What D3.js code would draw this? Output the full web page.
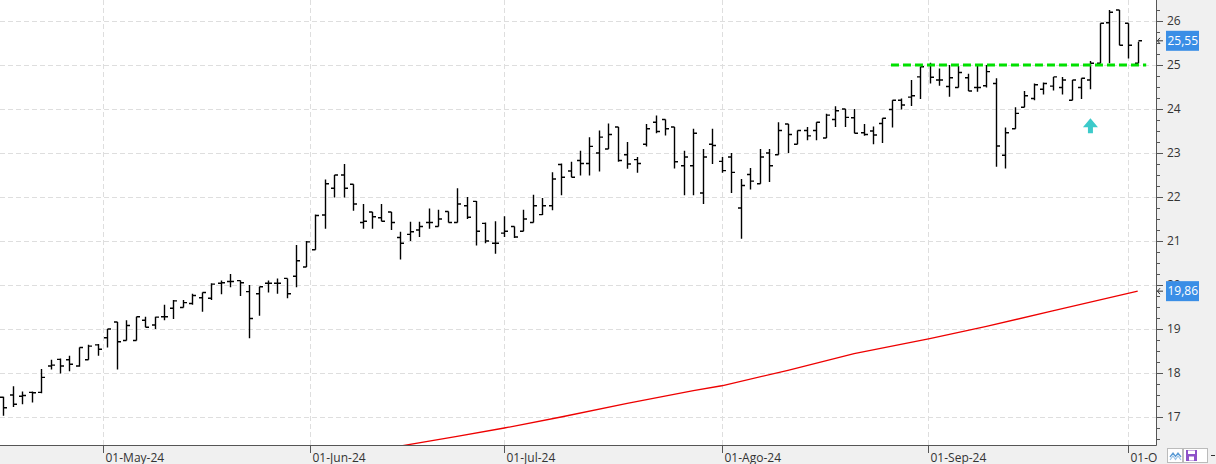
<!DOCTYPE html>
<html><head><meta charset="utf-8">
<script src="https://cdn.jsdelivr.net/npm/d3@7"></script>
<style>html,body{margin:0;padding:0;background:#fff;overflow:hidden}svg{display:block}</style>
</head><body><svg id="c" width="1216" height="464"></svg>
<script>
// ---- data (bars indexed by trading day; first bar ~16-Apr-24) ----
const opens  = [17.45,17.50,17.47,17.56,17.56,18.16,18.31,18.30,18.16,18.30,18.64,18.80,19.16,18.74,18.74,19.20,19.09,19.28,19.47,19.49,19.58,19.71,19.70,20.04,20.08,20.10,19.85,19.80,20.04,20.04,20.15,20.20,20.41,20.80,21.59,22.20,22.50,22.29,21.42,21.66,21.53,21.66,21.08,21.15,21.25,21.42,21.33,21.67,21.42,21.80,21.90,21.40,20.95,21.18,21.33,21.22,21.42,21.60,21.80,22.74,22.59,22.83,22.76,23.00,23.09,23.59,22.96,22.85,23.20,23.70,23.76,23.59,22.71,22.71,22.09,23.20,22.81,22.91,21.75,22.51,22.30,23.00,22.96,23.66,23.20,23.51,23.51,23.34,23.76,24.00,23.80,23.46,23.50,23.67,23.99,24.20,24.27,24.73,25.00,24.66,24.51,24.49,24.71,24.49,24.53,24.58,22.95,23.55,24.04,24.24,24.45,24.52,24.49,24.20,24.49,24.66,25.04,25.96,26.25,25.95,25.04];
const highs  = [17.46,17.70,17.58,17.58,18.09,18.30,18.33,18.39,18.58,18.64,18.66,19.00,19.16,19.20,19.28,19.28,19.28,19.55,19.66,19.66,19.80,19.83,20.04,20.10,20.25,20.10,20.00,19.96,20.10,20.15,20.15,20.91,21.00,21.60,22.40,22.50,22.75,22.29,21.84,21.66,21.84,21.66,21.21,21.44,21.44,21.74,21.71,21.67,22.20,22.00,21.91,21.42,21.45,21.56,21.33,21.71,22.05,21.98,22.56,22.76,22.80,23.05,23.36,23.51,23.67,23.59,23.25,22.91,23.66,23.85,23.76,23.59,23.05,23.55,23.09,23.55,22.91,23.00,22.41,22.66,23.09,23.09,23.70,23.66,23.51,23.59,23.70,23.89,24.06,24.00,24.00,23.66,23.60,23.79,24.20,24.24,24.66,24.96,25.05,24.92,25.00,24.98,24.80,24.98,25.00,24.70,23.58,24.04,24.41,24.58,24.60,24.73,24.73,24.66,24.70,25.09,25.95,26.25,26.25,25.95,25.53];
const lows   = [17.03,17.23,17.29,17.33,17.54,18.08,17.99,18.04,18.14,18.30,18.39,18.58,18.08,18.74,18.74,19.04,19.00,19.20,19.23,19.49,19.55,19.39,19.66,19.79,19.95,19.75,18.79,19.30,19.83,19.80,19.70,19.95,20.41,20.80,21.28,21.99,21.99,21.69,21.28,21.28,21.45,21.25,20.58,21.00,21.09,21.28,21.33,21.42,21.42,21.50,20.90,20.95,20.71,21.09,21.07,21.22,21.42,21.59,21.70,22.04,22.45,22.49,22.49,22.58,23.09,22.80,22.64,22.55,23.15,23.45,23.40,22.65,22.04,22.04,21.84,22.75,22.55,22.09,21.05,22.17,22.30,22.34,22.96,23.00,23.20,23.29,23.29,23.34,23.59,23.59,23.45,23.39,23.20,23.23,23.58,23.99,24.07,24.23,24.58,24.53,24.28,24.49,24.41,24.39,24.49,22.69,22.65,23.55,24.04,24.20,24.33,24.42,24.33,24.20,24.23,24.45,25.04,25.04,25.45,25.15,25.04];
const closes = [17.21,17.29,17.49,17.55,17.90,18.18,18.16,18.20,18.58,18.61,18.54,19.00,18.71,19.08,19.28,19.04,19.27,19.28,19.64,19.60,19.76,19.83,20.02,20.05,20.08,20.05,19.24,19.96,20.04,20.04,19.80,20.55,20.98,21.58,22.30,22.50,22.20,21.84,21.45,21.55,21.45,21.42,20.95,21.21,21.33,21.42,21.50,21.42,21.84,21.54,21.22,21.00,20.95,21.22,21.09,21.50,21.80,21.80,22.41,22.45,22.45,22.76,23.15,23.36,23.42,22.83,22.75,22.76,23.55,23.49,23.55,22.80,22.91,23.45,22.91,23.17,22.60,22.56,22.26,22.36,22.91,22.71,23.51,23.42,23.51,23.39,23.70,23.86,23.96,23.81,23.45,23.42,23.41,23.79,24.20,24.09,24.30,24.96,24.72,24.66,24.71,24.83,24.41,24.49,24.85,23.16,23.46,23.90,24.30,24.55,24.58,24.73,24.66,24.66,24.70,25.04,25.95,26.20,25.45,25.45,25.55];
// moving average read at these bar indices
const maIndex  = [42, 48, 53, 59, 66, 73, 76, 83, 90, 98, 104, 111, 120];
const maValues = [16.34,16.56,16.75,17.00,17.31,17.60,17.71,18.06,18.44,18.78,19.06,19.41,19.86];
// month ticks (position in bar-index units)
const monthLabels = ["01-May-24","01-Jun-24","01-Jul-24","01-Ago-24","01-Sep-24","01-Oct-24"];
const monthPos    = [10.58, 32.45, 53, 76, 97.8, 119];
const yTicks = [17,18,19,20,21,22,23,24,25,26];
const resistance = {level: 25, from: 93.9, to: 120.9};
const signalBar = 115, signalValue = 23.79;
const lastLabels = [{v: 25.55, t: "25,55"}, {v: 19.86, t: "19,86"}];

// ---- layout ----
const W = 1216, H = 464, plotR = 1156, plotB = 445;
const svg = d3.select("#c");
const x = d3.scaleLinear().domain([0, 120]).range([3.3, 1137.7]);
const y = d3.scaleLinear().domain([16, 26]).range([461, 21]);
const font = "'Open Sans', 'Noto Sans', sans-serif";

// panels
svg.append("rect").attr("x", plotR).attr("y", 0).attr("width", W - plotR).attr("height", H).attr("fill", "#f0f0f0");
svg.append("rect").attr("x", 0).attr("y", plotB).attr("width", W).attr("height", H - plotB).attr("fill", "#f0f0f0");

svg.append("defs").append("clipPath").attr("id", "clip")
  .append("rect").attr("x", 0).attr("y", 0).attr("width", plotR).attr("height", plotB);

const grid = svg.append("g").attr("stroke", "#dedede").attr("stroke-dasharray", "5,3").attr("stroke-width", 1);
yTicks.forEach(v => grid.append("line").attr("x1", 0).attr("x2", plotR)
  .attr("y1", Math.round(y(v)) + 0.5).attr("y2", Math.round(y(v)) + 0.5));
monthPos.forEach(p => grid.append("line").attr("y1", 0).attr("y2", plotB)
  .attr("x1", Math.round(x(p)) + 0.5).attr("x2", Math.round(x(p)) + 0.5));

const plot = svg.append("g").attr("clip-path", "url(#clip)");

// moving average
plot.append("path")
  .datum(maIndex.map((d, i) => [d, maValues[i]]))
  .attr("fill", "none").attr("stroke", "#ee0000").attr("stroke-width", 1.3)
  .attr("d", d3.line().x(d => x(d[0])).y(d => y(d[1])));

// OHLC bars
const bars = plot.append("g").attr("stroke", "#000").attr("stroke-width", 1.4).attr("fill", "none");
opens.forEach((o, i) => {
  const cx = Math.round(x(i)) + 0.5;
  bars.append("path").attr("d",
    `M${cx},${y(highs[i])}V${y(lows[i])}` +
    `M${cx - 3.5},${y(o)}H${cx}` +
    `M${cx},${y(closes[i])}H${cx + 3.5}`);
});

// resistance line
plot.append("line")
  .attr("x1", x(resistance.from)).attr("x2", x(resistance.to))
  .attr("y1", y(resistance.level)).attr("y2", y(resistance.level))
  .attr("stroke", "#00e000").attr("stroke-width", 3).attr("stroke-dasharray", "8,4");

// signal arrow
{
  const ax = x(signalBar), ay = y(signalValue);
  plot.append("path").attr("fill", "#3ccaca")
    .attr("d", `M${ax},${ay}L${ax + 7.5},${ay + 9}H${ax + 2.5}V${ay + 15}H${ax - 2.5}V${ay + 9}H${ax - 7.5}Z`);
}

// axes lines
svg.append("line").attr("x1", 0).attr("x2", plotR + 0.5).attr("y1", plotB + 0.5).attr("y2", plotB + 0.5)
  .attr("stroke", "#555").attr("stroke-width", 1);
svg.append("line").attr("x1", plotR + 0.5).attr("x2", plotR + 0.5).attr("y1", 0).attr("y2", plotB + 0.5)
  .attr("stroke", "#555").attr("stroke-width", 1);

// right axis ticks
const minor = d3.range(16.25, 26.5, 0.25);
const ax = svg.append("g").attr("stroke", "#555").attr("stroke-width", 1);
minor.forEach(v => {
  const yy = Math.round(y(v)) + 0.5;
  if (yy < 0 || yy > plotB) return;
  const major = Math.abs(v - Math.round(v)) < 1e-6;
  ax.append("line").attr("x1", plotR).attr("x2", plotR + (major ? 7 : 4)).attr("y1", yy).attr("y2", yy);
});
svg.append("g").selectAll("text").data(yTicks).join("text")
  .attr("x", 1167).attr("y", d => y(d)).attr("dy", "0.36em")
  .attr("font-family", font).attr("font-size", 12).attr("fill", "#333")
  .text(d => d);

// bottom axis ticks & labels
monthPos.forEach((p, i) => {
  const xx = Math.round(x(p)) + 0.5;
  svg.append("line").attr("x1", xx).attr("x2", xx).attr("y1", plotB).attr("y2", plotB + 8)
    .attr("stroke", "#555");
  svg.append("text").attr("x", xx + 2).attr("y", 461.5)
    .attr("font-family", font).attr("font-size", 12).attr("fill", "#333").text(monthLabels[i]);
});
// cover labels under right panel area at the bottom (panel corner)
svg.append("rect").attr("x", plotR + 1).attr("y", plotB + 1).attr("width", W - plotR).attr("height", H - plotB).attr("fill", "#f0f0f0");

// last value labels
lastLabels.forEach(l => {
  const yy = y(l.v);
  svg.append("path").attr("d", `M1157,${yy}H1163M1160,${yy - 3}L1157.5,${yy}L1160,${yy + 3}`)
    .attr("stroke", "#333").attr("fill", "none").attr("stroke-width", 1);
  svg.append("rect").attr("x", 1166).attr("y", yy - 10).attr("width", 33).attr("height", 20).attr("fill", "#3a8ee6");
  svg.append("text").attr("x", 1167.5).attr("y", yy).attr("dy", "0.36em")
    .attr("font-family", font).attr("font-size", 12).attr("fill", "#fff").text(l.t);
});

// toolbar icons bottom right
const tb = svg.append("g");
tb.append("rect").attr("x", 1167.5).attr("y", 448.5).attr("width", 15).attr("height", 14).attr("fill", "#fff").attr("stroke", "#bbb");
tb.append("path").attr("d", "M1170,457L1173,453L1175.5,456.5L1178,453L1181,457").attr("stroke", "#5b9bd5").attr("fill", "none").attr("stroke-width", 1.3);
tb.append("path").attr("d", "M1170,460L1173,456L1175.5,459.5L1178,456L1181,460").attr("stroke", "#9cc3e6").attr("fill", "none").attr("stroke-width", 1.1);
tb.append("rect").attr("x", 1183.5).attr("y", 448.5).attr("width", 24).attr("height", 14).attr("fill", "#fff").attr("stroke", "#bbb");
tb.append("rect").attr("x", 1186).attr("y", 450).attr("width", 11).attr("height", 11).attr("fill", "#8e52c9");
tb.append("rect").attr("x", 1188).attr("y", 450.5).attr("width", 7).attr("height", 3.5).attr("fill", "#fff");
tb.append("rect").attr("x", 1189).attr("y", 456.5).attr("width", 5).attr("height", 4).attr("fill", "#fff");
tb.append("line").attr("x1", 1211).attr("x2", 1215).attr("y1", 455.5).attr("y2", 455.5).attr("stroke", "#333");
</script></body></html>
